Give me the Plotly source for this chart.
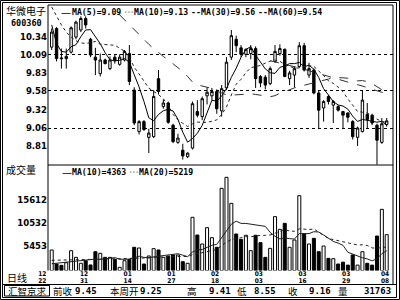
import plotly.graph_objects as go
import pandas as pd

# ---------------- data ----------------
dates = ["2004-12-22", "2004-12-23", "2004-12-24", "2004-12-27", "2004-12-28", "2004-12-29", "2004-12-30", "2004-12-31",
         "2005-01-04", "2005-01-05", "2005-01-06", "2005-01-07", "2005-01-10", "2005-01-11", "2005-01-12", "2005-01-13",
         "2005-01-14", "2005-01-17", "2005-01-18", "2005-01-19", "2005-01-20", "2005-01-21", "2005-01-24", "2005-01-25",
         "2005-01-26", "2005-01-27", "2005-01-28", "2005-01-31", "2005-02-01", "2005-02-02", "2005-02-03", "2005-02-04",
         "2005-02-16", "2005-02-17", "2005-02-18", "2005-02-21", "2005-02-22", "2005-02-23", "2005-02-24", "2005-02-25",
         "2005-02-28", "2005-03-01", "2005-03-02", "2005-03-03", "2005-03-04", "2005-03-07", "2005-03-08", "2005-03-09",
         "2005-03-10", "2005-03-11", "2005-03-14", "2005-03-15", "2005-03-16", "2005-03-17", "2005-03-18", "2005-03-21",
         "2005-03-22", "2005-03-23", "2005-03-24", "2005-03-25", "2005-03-28", "2005-03-29", "2005-03-30", "2005-03-31",
         "2005-04-01", "2005-04-04", "2005-04-05", "2005-04-06", "2005-04-07", "2005-04-08"]

opens = [10.19, 10.45, 10.04, 10.03, 10.12, 10.33, 10.43, 10.59, 10.30, 10.05,
         9.82, 10.01, 9.89, 10.05, 9.95, 10.01, 10.10, 9.59, 9.01, 9.15,
         8.93, 8.94, 9.75, 9.36, 9.41, 9.10, 8.86, 8.75, 8.66, 8.78,
         9.29, 9.22, 9.51, 9.51, 9.57, 9.30, 9.62, 10.05, 10.30, 10.18,
         10.09, 10.10, 10.17, 9.78, 9.77, 9.68, 9.99, 10.10, 10.16, 9.75,
         9.80, 9.92, 10.21, 9.80, 9.87, 9.55, 9.34, 9.50, 9.38, 9.36,
         9.29, 9.27, 9.15, 8.93, 9.01, 9.25, 9.24, 9.10, 8.86, 9.11]
highs = [10.45, 10.47, 10.17, 10.17, 10.48, 10.56, 10.62, 10.62, 10.32, 10.18,
         10.10, 10.03, 10.06, 10.09, 10.09, 10.15, 10.22, 9.63, 9.17, 9.17,
         9.05, 9.59, 9.87, 9.46, 9.43, 9.12, 8.98, 8.84, 8.72, 9.43,
         9.45, 9.50, 9.63, 9.62, 9.60, 9.66, 10.05, 10.43, 10.35, 10.22,
         10.17, 10.22, 10.20, 9.80, 9.80, 9.92, 10.22, 10.23, 10.17, 9.86,
         9.92, 10.26, 10.25, 9.97, 9.89, 9.58, 9.45, 9.52, 9.45, 9.38,
         9.30, 9.28, 9.17, 9.08, 9.59, 9.41, 9.26, 9.12, 9.20, 9.20]
lows = [10.15, 9.99, 9.89, 9.89, 10.10, 10.30, 10.40, 10.45, 10.05, 9.80,
        9.78, 9.95, 9.87, 9.96, 9.93, 9.99, 9.66, 9.10, 8.97, 9.02,
        8.71, 8.92, 9.53, 9.33, 9.12, 8.85, 8.84, 8.62, 8.64, 8.76,
        9.21, 9.17, 9.39, 9.45, 9.26, 9.22, 9.59, 10.01, 10.12, 10.05,
        10.05, 10.02, 9.62, 9.63, 9.60, 9.66, 9.97, 10.07, 9.77, 9.66,
        9.63, 9.90, 9.85, 9.76, 9.53, 9.06, 9.15, 9.39, 9.13, 9.29,
        9.06, 9.14, 8.90, 8.81, 9.00, 9.06, 9.10, 8.55, 8.84, 9.08]
closes = [10.40, 10.03, 10.03, 10.06, 10.46, 10.54, 10.59, 10.50, 10.08, 10.01,
          10.01, 9.96, 10.01, 10.00, 10.05, 10.13, 9.71, 9.13, 9.15, 9.04,
          8.99, 9.50, 9.57, 9.41, 9.14, 8.87, 8.92, 8.67, 8.71, 9.40,
          9.24, 9.47, 9.56, 9.57, 9.33, 9.61, 9.98, 10.35, 10.21, 10.09,
          10.16, 10.17, 9.75, 9.69, 9.66, 9.89, 10.13, 10.17, 9.78, 9.83,
          9.89, 10.21, 9.87, 9.89, 9.55, 9.31, 9.43, 9.43, 9.43, 9.31,
          9.24, 9.21, 8.94, 9.06, 9.45, 9.18, 9.13, 8.89, 9.12, 9.16]
volumes = [4510, 1445, 1150, 1730, 4360, 2900, 1600, 2170, 1230, 4140,
           3780, 2900, 2900, 2470, 720, 2170, 2470, 5100, 4950, 1440,
           3200, 4800, 4510, 2900, 3200, 3410, 3410, 1950, 1600, 11670,
           7790, 5820, 9400, 7210, 5100, 18010, 20420, 14720, 8010, 6840,
           7730, 4370, 7730, 6120, 2900, 4870, 11810, 9030, 10340, 5100,
           6700, 16400, 8010, 5820, 7060, 4140, 5380, 2680, 2610, 1440,
           1850, 1200, 3420, 1200, 4140, 1600, 1200, 7570, 13410, 7870]

# moving-average values read from the picture where the loaded history is not visible
ma5_head = [10.50, 10.24, 10.13, 10.12]                                   # bars 0-3
ma10_head = [10.75, 10.62, 10.50, 10.40, 10.33, 10.28, 10.25, 10.24, 10.25]  # bars 0-8
ma30_start = 14
ma30_head = [10.64, 10.57, 10.50, 10.43, 10.36, 10.29, 10.23, 10.17, 10.11,
             10.06, 10.01, 9.96, 9.91, 9.85, 9.78]                        # bars 14-28
ma60_start = 45
ma60_head = [10.00, 9.985, 9.97, 9.95, 9.935, 9.92, 9.90, 9.88, 9.86, 9.84,
             9.82, 9.80, 9.78, 9.755]                                     # bars 45-58
vma10_head = [1500, 1600, 1700, 1800, 1900, 2000, 2100, 2200, 2400]       # bars 0-8
vma20_head = [2250, 2260, 2280, 2300, 2330, 2360, 2390, 2420, 2450, 2480,
              2510, 2540, 2570, 2600, 2620, 2640, 2660, 2680, 2700]       # bars 0-18

price_ticks = [10.34, 10.09, 9.83, 9.58, 9.32, 9.06, 8.81]
grid_levels = [10.09, 9.58, 9.06]
vol_ticks = [5453, 10532, 15612]
tick_dates = ["2004-12-22", "2004-12-31", "2005-01-14", "2005-01-27", "2005-02-18",
              "2005-03-03", "2005-03-16", "2005-03-29", "2005-04-08"]

stock_name = "华微电子"
stock_code = "600360"
legend_price = [("—", "MA(5)=9.09"), ("···", "MA(10)=9.13"), ("--", "MA(30)=9.56"), ("--", "MA(60)=9.54")]
legend_vol = [("—", "MA(10)=4363"), ("···", "MA(20)=5219")]
info_items = [("前收", "9.45"), ("本周开", "9.25"), ("高", "9.41"), ("低", "8.55"), ("收", "9.16"), ("量", "31763")]

# ---------------- derived series ----------------
idx = list(range(len(dates)))
cs = pd.Series(closes)
vs = pd.Series(volumes, dtype=float)


def with_head(series, start, head):
    out = [None] * len(series)
    for i, v in enumerate(series):
        if pd.notna(v):
            out[i] = float(v)
    for k, v in enumerate(head):
        out[start + k] = v
    return out


ma5 = with_head(cs.rolling(5).mean(), 0, ma5_head)
ma10 = with_head(cs.rolling(10).mean(), 0, ma10_head)
ma30 = with_head(cs.rolling(30).mean(), ma30_start, ma30_head)
ma60 = with_head(cs.rolling(60).mean(), ma60_start, ma60_head)
vma10 = with_head(vs.rolling(10).mean(), 0, vma10_head)
vma20 = with_head(vs.rolling(20).mean(), 0, vma20_head)
up = [c >= o for o, c in zip(opens, closes)]

# ---------------- geometry (pixels) ----------------
W, H = 400, 300
def px(x): return x / W
def py(y): return 1 - y / H

X0, DX = 51.7, 4.855            # pixel of bar 0, pixels per bar
L, R = 48, 393
P_TOP, P_BOT = 5, 165
V_TOP, V_BOT = 165, 270.6
xr = [(L - X0) / DX, (R - X0) / DX]
price_range = [10.09 - (P_BOT - 54.3) / 71.6, 10.09 + (54.3 - P_TOP) / 71.6]
vol_range = [0, (V_BOT - V_TOP) / 0.004568]
LBL_L = 28
xr_lbl = [(LBL_L - X0) / DX, xr[1]]
LBL_AXIS_Y = 266.0

date_pos = [dates.index(d) - 0.35 for d in tick_dates]
date_pos[0] = -1.95
months = [d[5:7] for d in tick_dates]
days = [d[8:10] for d in tick_dates]

BLACK = "#000000"
NARROW = "Liberation Sans Narrow, DejaVu Sans Condensed, Liberation Sans, Arial"
MONO = "DejaVu Sans Mono"
CJK = "Noto Sans CJK SC"

fig = go.Figure()

fig.add_trace(go.Candlestick(
    x=idx, open=opens, high=highs, low=lows, close=closes,
    xaxis="x", yaxis="y", whiskerwidth=0,
    increasing=dict(line=dict(color=BLACK, width=1), fillcolor="#ffffff"),
    decreasing=dict(line=dict(color=BLACK, width=1), fillcolor=BLACK),
    showlegend=False, hoverinfo="skip"))

for vals, dash, col in [(ma5, "solid", "#000000"), (ma10, "dot", "#202020"),
                        (ma30, "dash", "#303030"), (ma60, "dash", "#303030")]:
    fig.add_trace(go.Scatter(x=idx, y=vals, mode="lines", xaxis="x", yaxis="y",
                             line=dict(color=col, width=1, dash=dash),
                             showlegend=False, hoverinfo="skip", connectgaps=False))

fig.add_trace(go.Bar(
    x=idx, y=volumes, xaxis="x", yaxis="y2", width=0.62,
    marker=dict(color=["#ffffff" if u else BLACK for u in up], line=dict(color=BLACK, width=1)),
    showlegend=False, hoverinfo="skip"))

for vals, dash in [(vma10, "solid"), (vma20, "dot")]:
    fig.add_trace(go.Scatter(x=idx, y=vals, mode="lines", xaxis="x", yaxis="y2",
                             line=dict(color="#202020", width=1, dash=dash),
                             showlegend=False, hoverinfo="skip"))

# invisible carriers for the date label axes
for ax in ["x3", "x4"]:
    fig.add_trace(go.Scatter(x=idx, y=volumes, mode="markers", xaxis=ax, yaxis="y2",
                             marker=dict(opacity=0, size=1), showlegend=False, hoverinfo="skip"))

tick_font = dict(family=NARROW, size=9.5, color=BLACK, weight="bold")
date_font = dict(family=NARROW, size=6.5, color=BLACK, weight="bold")

fig.update_layout(
    width=W, height=H, margin=dict(l=0, r=0, t=0, b=0),
    paper_bgcolor="white", plot_bgcolor="rgba(0,0,0,0)", showlegend=False,
    xaxis=dict(domain=[px(L), px(R)], range=xr, anchor="y2", showticklabels=False,
               showgrid=False, zeroline=False, showline=False, ticks="",
               rangeslider=dict(visible=False)),
    xaxis3=dict(domain=[px(LBL_L), px(R)], range=xr_lbl, anchor="free", position=py(LBL_AXIS_Y),
                tickvals=date_pos, ticktext=months, ticks="outside", ticklen=1,
                tickcolor="rgba(0,0,0,0)", tickfont=date_font,
                showgrid=False, zeroline=False, showline=False),
    xaxis4=dict(domain=[px(LBL_L), px(R)], range=xr_lbl, anchor="free", position=py(LBL_AXIS_Y),
                tickvals=date_pos, ticktext=days, ticks="outside", ticklen=8.6,
                tickcolor="rgba(0,0,0,0)", tickfont=date_font,
                showgrid=False, zeroline=False, showline=False),
    yaxis=dict(domain=[py(P_BOT), py(P_TOP)], range=price_range, anchor="x",
               tickvals=price_ticks, ticktext=[f"{v:.2f}" for v in price_ticks],
               ticks="", tickfont=tick_font, showgrid=False, zeroline=False, showline=False),
    yaxis3=dict(domain=[py(P_BOT), py(P_TOP)], range=price_range, overlaying="y", anchor="x",
                tickvals=grid_levels, showticklabels=False, ticks="",
                showgrid=True, gridcolor="#000000", gridwidth=1, griddash="dot",
                zeroline=False, showline=False),
    yaxis2=dict(domain=[py(V_BOT), py(V_TOP)], range=vol_range, anchor="x",
                tickvals=vol_ticks, ticktext=[str(v) for v in vol_ticks],
                ticks="", tickfont=tick_font, showgrid=False, zeroline=False, showline=False),
)
# empty carrier on yaxis3 so its grid is drawn
fig.add_trace(go.Scatter(x=[idx[0]], y=[grid_levels[0]], xaxis="x", yaxis="y3", mode="markers",
                         marker=dict(opacity=0, size=1), showlegend=False, hoverinfo="skip"))

# ---------------- frame ----------------
shapes = []
def hline(y, x0, x1, w=1):
    shapes.append(dict(type="line", xref="paper", yref="paper", x0=px(x0), x1=px(x1),
                       y0=py(y), y1=py(y), line=dict(color=BLACK, width=w)))
def vline(x, y0, y1, w=1):
    shapes.append(dict(type="line", xref="paper", yref="paper", x0=px(x), x1=px(x),
                       y0=py(y0), y1=py(y1), line=dict(color=BLACK, width=w)))
def rect(x0, y0, x1, y1, w=1):
    shapes.append(dict(type="rect", xref="paper", yref="paper", x0=px(x0), x1=px(x1),
                       y0=py(y0), y1=py(y1), line=dict(color=BLACK, width=w)))

rect(0.5, 0.5, 399.5, 299.5)
rect(2.5, 2.5, 396.5, 297.5)
hline(P_TOP, L, R)
hline(P_BOT, L, R)
vline(L, P_TOP, V_BOT)
vline(R, P_TOP, 284.5)
hline(284.5, 2.5, 396.5)
rect(4.5, 285.5, 49.5, 296)
fig.update_layout(shapes=shapes)

# ---------------- texts ----------------
ann = []
def text(x, y, s, font, xanchor="left"):
    ann.append(dict(x=px(x), y=py(y), xref="paper", yref="paper", text=s, showarrow=False,
                    xanchor=xanchor, yanchor="middle", font=font, borderpad=0))

cjk_font = dict(family=CJK, size=10, color=BLACK)
mono_font = dict(family=MONO, size=8.2, color=BLACK, weight="bold")
dash_font = dict(family="DejaVu Sans", size=10, color=BLACK)
dot_font = dict(family=MONO, size=5.5, color=BLACK, weight="bold")
sym_font = {"—": dash_font, "···": dot_font, "--": mono_font}

text(26, 10.5, stock_name, cjk_font, "center")
text(26, 23, stock_code, dict(family=MONO, size=8.5, color=BLACK, weight="bold"), "center")

leg_x = [(60, 71), (123, 133), (190, 200), (257, 267)]
for (sym, s), (xs, xt) in zip(legend_price, leg_x):
    text(xs, 12, sym, sym_font[sym])
    text(xt, 12, s, mono_font)

text(21, 169, "成交量", dict(family=CJK, size=10, color=BLACK), "center")
legv_x = [(61, 71), (127.5, 138)]
for (sym, s), (xs, xt) in zip(legend_vol, legv_x):
    text(xs, 172, sym, sym_font[sym])
    text(xt, 172, s, mono_font)

text(16.5, 277, "日线", dict(family=CJK, size=10, color=BLACK), "center")

text(27, 290.5, "汇智京求", dict(family=CJK, size=9.5, color=BLACK), "center")
lab_x = [62.5, 124, 192, 242.5, 292.5, 342.5]
val_r = [98, 163, 232, 277, 332, 392]
info_font = dict(family=MONO, size=9, color=BLACK, weight="bold")
info_cjk = dict(family=CJK, size=9.5, color=BLACK)
for (lab, val), lx, vr in zip(info_items, lab_x, val_r):
    text(lx, 290.5, lab, info_cjk, "center")
    text(vr, 290.5, val, info_font, "right")

fig.update_layout(annotations=ann)
fig.write_html("out.html")
